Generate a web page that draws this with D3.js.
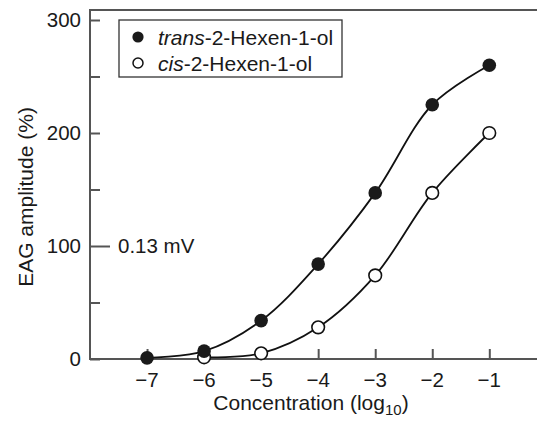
<!DOCTYPE html>
<html>
<head>
<meta charset="utf-8">
<script src="https://cdn.jsdelivr.net/npm/d3@7"></script>
<style>
  html, body { margin: 0; padding: 0; background: #fff; }
  svg { display: block; }
  text { font-family: "Liberation Sans", Arial, Helvetica, sans-serif; fill: #1a1a1a; }
</style>
</head>
<body>
<svg id="chart" width="537" height="421"></svg>
<script>
// ---- data ----
const concentrations = [-7, -6, -5, -4, -3, -2, -1];
const transValues = [1, 7, 34, 84, 147, 225, 260];           // trans-2-Hexen-1-ol
const cisConcentrations = [-6, -5, -4, -3, -2, -1];
const cisValues = [1.5, 5, 28, 74, 147, 200];                  // cis-2-Hexen-1-ol
const xTickValues = [-7, -6, -5, -4, -3, -2, -1];
const yMajorTicks = [0, 100, 200, 300];
const yMinorTicks = [50, 150, 250];
const seriesNames = ["trans", "cis"];

// ---- layout ----
const svg = d3.select("#chart");
const W = 537, H = 421;
const plotLeft = 90, plotBottom = 359, plotTop = 10, yTop300 = 20;
const axisColor = "#555";

const x = d3.scaleLinear().domain([-8, -1]).range([plotLeft, 489.3]);
const y = d3.scaleLinear().domain([0, 300]).range([plotBottom, yTop300]);

// frame lines (left, top, bottom)
svg.append("line").attr("x1", plotLeft).attr("x2", plotLeft).attr("y1", plotTop).attr("y2", plotBottom)
  .attr("stroke", axisColor).attr("stroke-width", 2);
svg.append("line").attr("x1", plotLeft - 1).attr("x2", W).attr("y1", plotTop).attr("y2", plotTop)
  .attr("stroke", axisColor).attr("stroke-width", 2);
svg.append("line").attr("x1", plotLeft - 1).attr("x2", W).attr("y1", plotBottom).attr("y2", plotBottom)
  .attr("stroke", axisColor).attr("stroke-width", 2);

// y axis via d3 axis (inward ticks)
const yAxis = d3.axisRight(y).tickValues(yMajorTicks.concat(yMinorTicks)).tickSize(10)
  .tickFormat(() => "");
const yg = svg.append("g").attr("transform", `translate(${plotLeft},0)`).call(yAxis);
yg.select(".domain").remove();
yg.selectAll(".tick line").attr("stroke", axisColor).attr("stroke-width", 2);
yg.selectAll(".tick").filter(d => d === 100).select("line").attr("x2", 20);

// y tick labels
svg.append("g").selectAll("text").data(yMajorTicks).join("text")
  .attr("x", 81).attr("y", d => y(d)).attr("dy", "0.36em")
  .attr("text-anchor", "end").attr("font-size", 20.5).text(d => d);

// 0.13 mV annotation
svg.append("text").attr("x", 118).attr("y", y(100)).attr("dy", "0.36em")
  .attr("font-size", 20.5).text("0.13 mV");

// x axis via d3 axis (inward ticks)
const xAxis = d3.axisTop(x).tickValues(xTickValues).tickSize(10).tickFormat(() => "");
const xg = svg.append("g").attr("transform", `translate(0,${plotBottom})`).call(xAxis);
xg.select(".domain").remove();
xg.selectAll(".tick line").attr("stroke", axisColor).attr("stroke-width", 2);

svg.append("g").selectAll("text").data(xTickValues).join("text")
  .attr("x", d => x(d)).attr("y", 387)
  .attr("text-anchor", "middle").attr("font-size", 20.5)
  .text(d => "\u2212" + Math.abs(d));

// x label
const xl = svg.append("text").attr("x", 311).attr("y", 410)
  .attr("text-anchor", "middle").attr("font-size", 21);
xl.append("tspan").text("Concentration (log");
xl.append("tspan").attr("font-size", 15).attr("dy", 5).text("10");
xl.append("tspan").attr("dy", -5).text(")");

// y label
svg.append("text").attr("transform", `translate(33,${197}) rotate(-90)`)
  .attr("text-anchor", "middle").attr("font-size", 21).text("EAG amplitude (%)");

// ---- curves ----
const line = d3.line().x(d => x(d[0])).y(d => y(d[1])).curve(d3.curveCatmullRom.alpha(0.5));
const transData = concentrations.map((c, i) => [c, transValues[i]]);
const cisData = cisConcentrations.map((c, i) => [c, cisValues[i]]);

svg.append("path").datum(transData).attr("d", line)
  .attr("fill", "none").attr("stroke", "#111").attr("stroke-width", 1.8);
svg.append("path").datum(cisData).attr("d", line)
  .attr("fill", "none").attr("stroke", "#111").attr("stroke-width", 1.8);

svg.append("g").selectAll("circle").data(cisData).join("circle")
  .attr("cx", d => x(d[0])).attr("cy", d => y(d[1])).attr("r", 6.3)
  .attr("fill", "#fff").attr("stroke", "#111").attr("stroke-width", 1.6);
svg.append("g").selectAll("circle").data(transData).join("circle")
  .attr("cx", d => x(d[0])).attr("cy", d => y(d[1])).attr("r", 6.8)
  .attr("fill", "#1a1a1a");

// ---- legend ----
const lg = svg.append("g");
lg.append("rect").attr("x", 119).attr("y", 20).attr("width", 223).attr("height", 57)
  .attr("fill", "#fff").attr("stroke", "#333").attr("stroke-width", 1.3);
const legendRows = [
  { key: seriesNames[0], cy: 37, filled: true },
  { key: seriesNames[1], cy: 63, filled: false }
];
legendRows.forEach(r => {
  lg.append("circle").attr("cx", 138).attr("cy", r.cy).attr("r", r.filled ? 5.6 : 5)
    .attr("fill", r.filled ? "#1a1a1a" : "#fff").attr("stroke", "#111")
    .attr("stroke-width", r.filled ? 0 : 1.5);
  const t = lg.append("text").attr("x", 158).attr("y", r.cy).attr("dy", "0.36em").attr("font-size", 21);
  t.append("tspan").attr("font-style", "italic").text(r.key);
  t.append("tspan").text("-2-Hexen-1-ol");
});
</script>
</body>
</html>
